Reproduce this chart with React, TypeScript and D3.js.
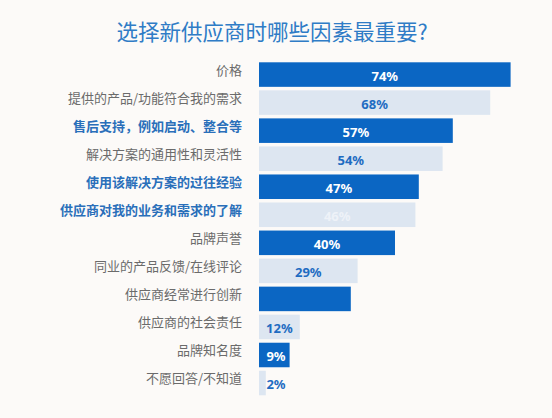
import React, { useEffect, useRef } from "react";
import * as d3 from "d3";

// Daten
const factors = [
  "价格",
  "提供的产品/功能符合我的需求",
  "售后支持，例如启动、整合等",
  "解决方案的通用性和灵活性",
  "使用该解决方案的过往经验",
  "供应商对我的业务和需求的了解",
  "品牌声誉",
  "同业的产品反馈/在线评论",
  "供应商经常进行创新",
  "供应商的社会责任",
  "品牌知名度",
  "不愿回答/不知道",
];
const shares = [74, 68, 57, 54, 47, 46, 40, 29, 27, 12, 9, 2];
const valueLabels = ["74%", "68%", "57%", "54%", "47%", "46%", "40%", "29%", "", "12%", "9%", "2%"];
const highlighted = ["售后支持，例如启动、整合等", "使用该解决方案的过往经验", "供应商对我的业务和需求的了解"];

const W = 552;
const H = 418;
const DARK = "#0b66c3";
const LIGHT = "#dde6f1";
const CJK = "'Noto Sans CJK SC', 'Noto Sans', sans-serif";

export default function App() {
  const ref = useRef<SVGSVGElement | null>(null);

  useEffect(() => {
    if (!ref.current) return;
    const svg = d3.select(ref.current);
    svg.selectAll("*").remove();

    svg.append("rect").attr("width", W).attr("height", H).attr("fill", "#fcfaf8");

    svg
      .append("text")
      .attr("x", 272)
      .attr("y", 30)
      .attr("text-anchor", "middle")
      .attr("dominant-baseline", "central")
      .style("font-family", CJK)
      .style("font-size", "21.5px")
      .style("fill", "#2f7cc6")
      .text("选择新供应商时哪些因素最重要?");

    const x = d3.scaleLinear().domain([0, 100]).range([259, 599]);
    const y = d3
      .scaleBand<string>()
      .domain(factors)
      .range([62.3, 395.3])
      .paddingInner(0.125)
      .paddingOuter(0);

    const rows = factors.map((f, i) => ({ f, v: shares[i], lab: valueLabels[i], i }));

    const g = svg.append("g");

    g.selectAll("rect.bar")
      .data(rows)
      .enter()
      .append("rect")
      .attr("class", "bar")
      .attr("x", x(0))
      .attr("y", (d) => y(d.f)!)
      .attr("width", (d) => x(d.v) - x(0))
      .attr("height", y.bandwidth())
      .attr("fill", (d) => (d.i % 2 === 0 ? DARK : LIGHT));

    // Kategorien links
    g.selectAll("text.cat")
      .data(rows)
      .enter()
      .append("text")
      .attr("class", "cat")
      .attr("x", 242)
      .attr("y", (d) => y(d.f)! + y.bandwidth() / 2 - 5.5)
      .attr("text-anchor", "end")
      .attr("dominant-baseline", "central")
      .style("font-family", CJK)
      .style("font-size", "13px")
      .style("font-weight", (d) => (highlighted.includes(d.f) ? 700 : 400))
      .style("fill", (d) => (highlighted.includes(d.f) ? "#2a6fba" : "#6b6b6b"))
      .text((d) => d.f);

    // Prozentwerte
    g.selectAll("text.val")
      .data(rows.filter((d) => d.lab !== ""))
      .enter()
      .append("text")
      .attr("class", "val")
      .attr("x", (d) => Math.max((x(0) + x(d.v)) / 2, 276))
      .attr("y", (d) => y(d.f)! + y.bandwidth() / 2 + 1)
      .attr("text-anchor", "middle")
      .attr("dominant-baseline", "central")
      .style("font-family", "'Noto Sans', sans-serif")
      .style("font-size", "13px")
      .style("font-weight", 700)
      .style("fill", (d) => (d.i % 2 === 0 ? "#ffffff" : d.v === 46 ? "#eef2f8" : "#1f6cc2"))
      .text((d) => d.lab);
  }, []);

  return (
    <div style={{ position: "absolute", left: 0, top: 0 }}>
      <svg ref={ref} width={W} height={H} style={{ display: "block" }} />
    </div>
  );
}
